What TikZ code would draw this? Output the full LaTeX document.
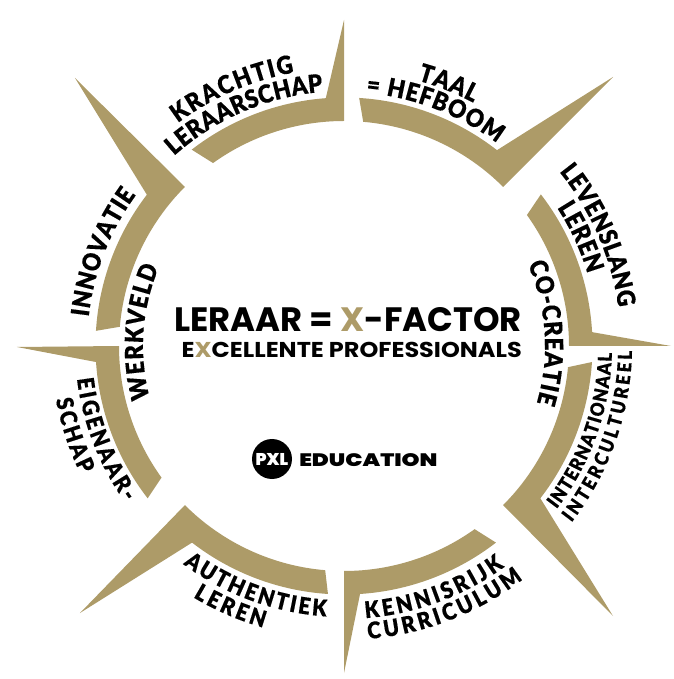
\documentclass[tikz,border=0pt]{standalone}
\usepackage{fontspec}
\usetikzlibrary{decorations.text}
\newfontfamily\blk{Poppins Black}
\newfontfamily\lbk{Lato Black}[FakeStretch=0.9,FakeBold=0.3]
\newfontfamily\bld{Poppins Bold}
\definecolor{gold}{HTML}{AD9B68}
\newcommand{\curv}[5]{\path[decorate,decoration={text along path,text align=fit to path,text color=black,text={|\lbk\fontsize{#4}{#4}\selectfont|#5}}] (#2:#1pt) arc[start angle=#2,end angle=#3,radius=#1pt];}
\begin{document}
\begin{tikzpicture}[x=1pt,y=1pt]
\useasboundingbox (-344,-333) rectangle (329,346);
\coordinate (tipN) at (0,326);
\coordinate (tipNE) at (269,269);
\coordinate (tipE) at (327,0);
\coordinate (tipSE) at (269,-270);
\coordinate (tipS) at (0,-327);
\coordinate (tipSW) at (-264,-267);
\coordinate (tipW) at (-327,-1);
\coordinate (tipNW) at (-269,268);
% Krachtig
\fill[gold] (tipN) -- (90:225pt) arc[start angle=90,end angle=125.6,radius=225pt] -- (127.8:248.5pt) arc[start angle=127.8,end angle=94.2,radius=248.5pt] -- cycle;
% Taal
\fill[gold] (tipNE) -- (45:225pt) arc[start angle=45,end angle=85.1,radius=225pt] -- (86.5:248.5pt) arc[start angle=86.5,end angle=52,radius=248.5pt] -- cycle;
% Levenslang
\fill[gold] (tipE) -- (0:225pt) arc[start angle=0,end angle=35.6,radius=225pt] -- (37.6:248.5pt) arc[start angle=37.6,end angle=3.2,radius=248.5pt] -- cycle;
% Internationaal
\fill[gold] (tipSE) -- (-45:225pt) arc[start angle=-45,end angle=-5.4,radius=225pt] -- (-3.7:248.5pt) arc[start angle=-3.7,end angle=-37.8,radius=248.5pt] -- cycle;
% Kennisrijk
\fill[gold] (tipS) -- (-90:225pt) arc[start angle=-90,end angle=-54.5,radius=225pt] -- (-52.3:248.5pt) arc[start angle=-52.3,end angle=-86.3,radius=248.5pt] -- cycle;
% Authentiek
\fill[gold] (tipSW) -- (225:225pt) arc[start angle=225,end angle=265.2,radius=225pt] -- (266.3:248.5pt) arc[start angle=266.3,end angle=232.3,radius=248.5pt] -- cycle;
% Eigenaar
\fill[gold] (tipW) -- (180:225pt) arc[start angle=180,end angle=215.8,radius=225pt] -- (217.8:248.5pt) arc[start angle=217.8,end angle=183.7,radius=248.5pt] -- cycle;
% Innovatie
\fill[gold] (tipNW) -- (135:225pt) arc[start angle=135,end angle=175.1,radius=225pt] -- (176.5:248.5pt) arc[start angle=176.5,end angle=142.5,radius=248.5pt] -- cycle;
% labels
\curv{278}{126.7}{100.3}{25}{KRACHTIG}
\curv{255}{131.8}{94.7}{25}{LERAARSCHAP}
\curv{275.5}{74.5}{62}{25}{TAAL}
\curv{254}{85}{53}{25}{= HEFBOOM}
\curv{277}{39}{8}{25}{LEVENSLANG}
\curv{254}{33}{16.5}{25}{LEREN}
\curv{201}{24}{-16.5}{25}{CO-CREATIE}
\curv{268}{-37.5}{-1.5}{19}{INTERNATIONAAL}
\curv{288}{-37.8}{-1}{19}{INTERCULTUREEL}
\curv{273}{-85.5}{-54}{23}{KENNISRIJK}
\curv{294}{-85.3}{-52.5}{23}{CURRICULUM}
\curv{271}{233.6}{266.2}{23}{AUTHENTIEK}
\curv{293}{239}{254}{23}{LEREN}
\curv{269}{187}{215.5}{23}{EIGENAAR-}
\curv{293}{190.5}{206}{23}{SCHAP}
\curv{201}{195}{157}{25}{WERKVELD}
\curv{257}{173.5}{144}{25}{INNOVATIE}
% centre
\node[anchor=base east,inner sep=0pt,font=\bld\fontsize{33.8}{34}\selectfont] (title) at (178,14) {LERAAR = \textcolor{gold}{X}-FACTOR};
\node[anchor=base east,inner sep=0pt,font=\bld\fontsize{21.5}{21.5}\selectfont,transform shape,xscale=1.115] (sub) at (178,-12) {E\textcolor{gold}{X}CELLENTE PROFESSIONALS};
\node[circle,fill=black,minimum size=40pt,inner sep=0pt,text=white,font=\blk\fontsize{17}{17}\selectfont] (pxl) at (-72,-113) {PXL};
\node[anchor=base west,inner sep=0pt,font=\blk\fontsize{18}{18}\selectfont,transform shape,xscale=1.27] (edu) at (-45,-120) {EDUCATION};
\end{tikzpicture}
\end{document}
